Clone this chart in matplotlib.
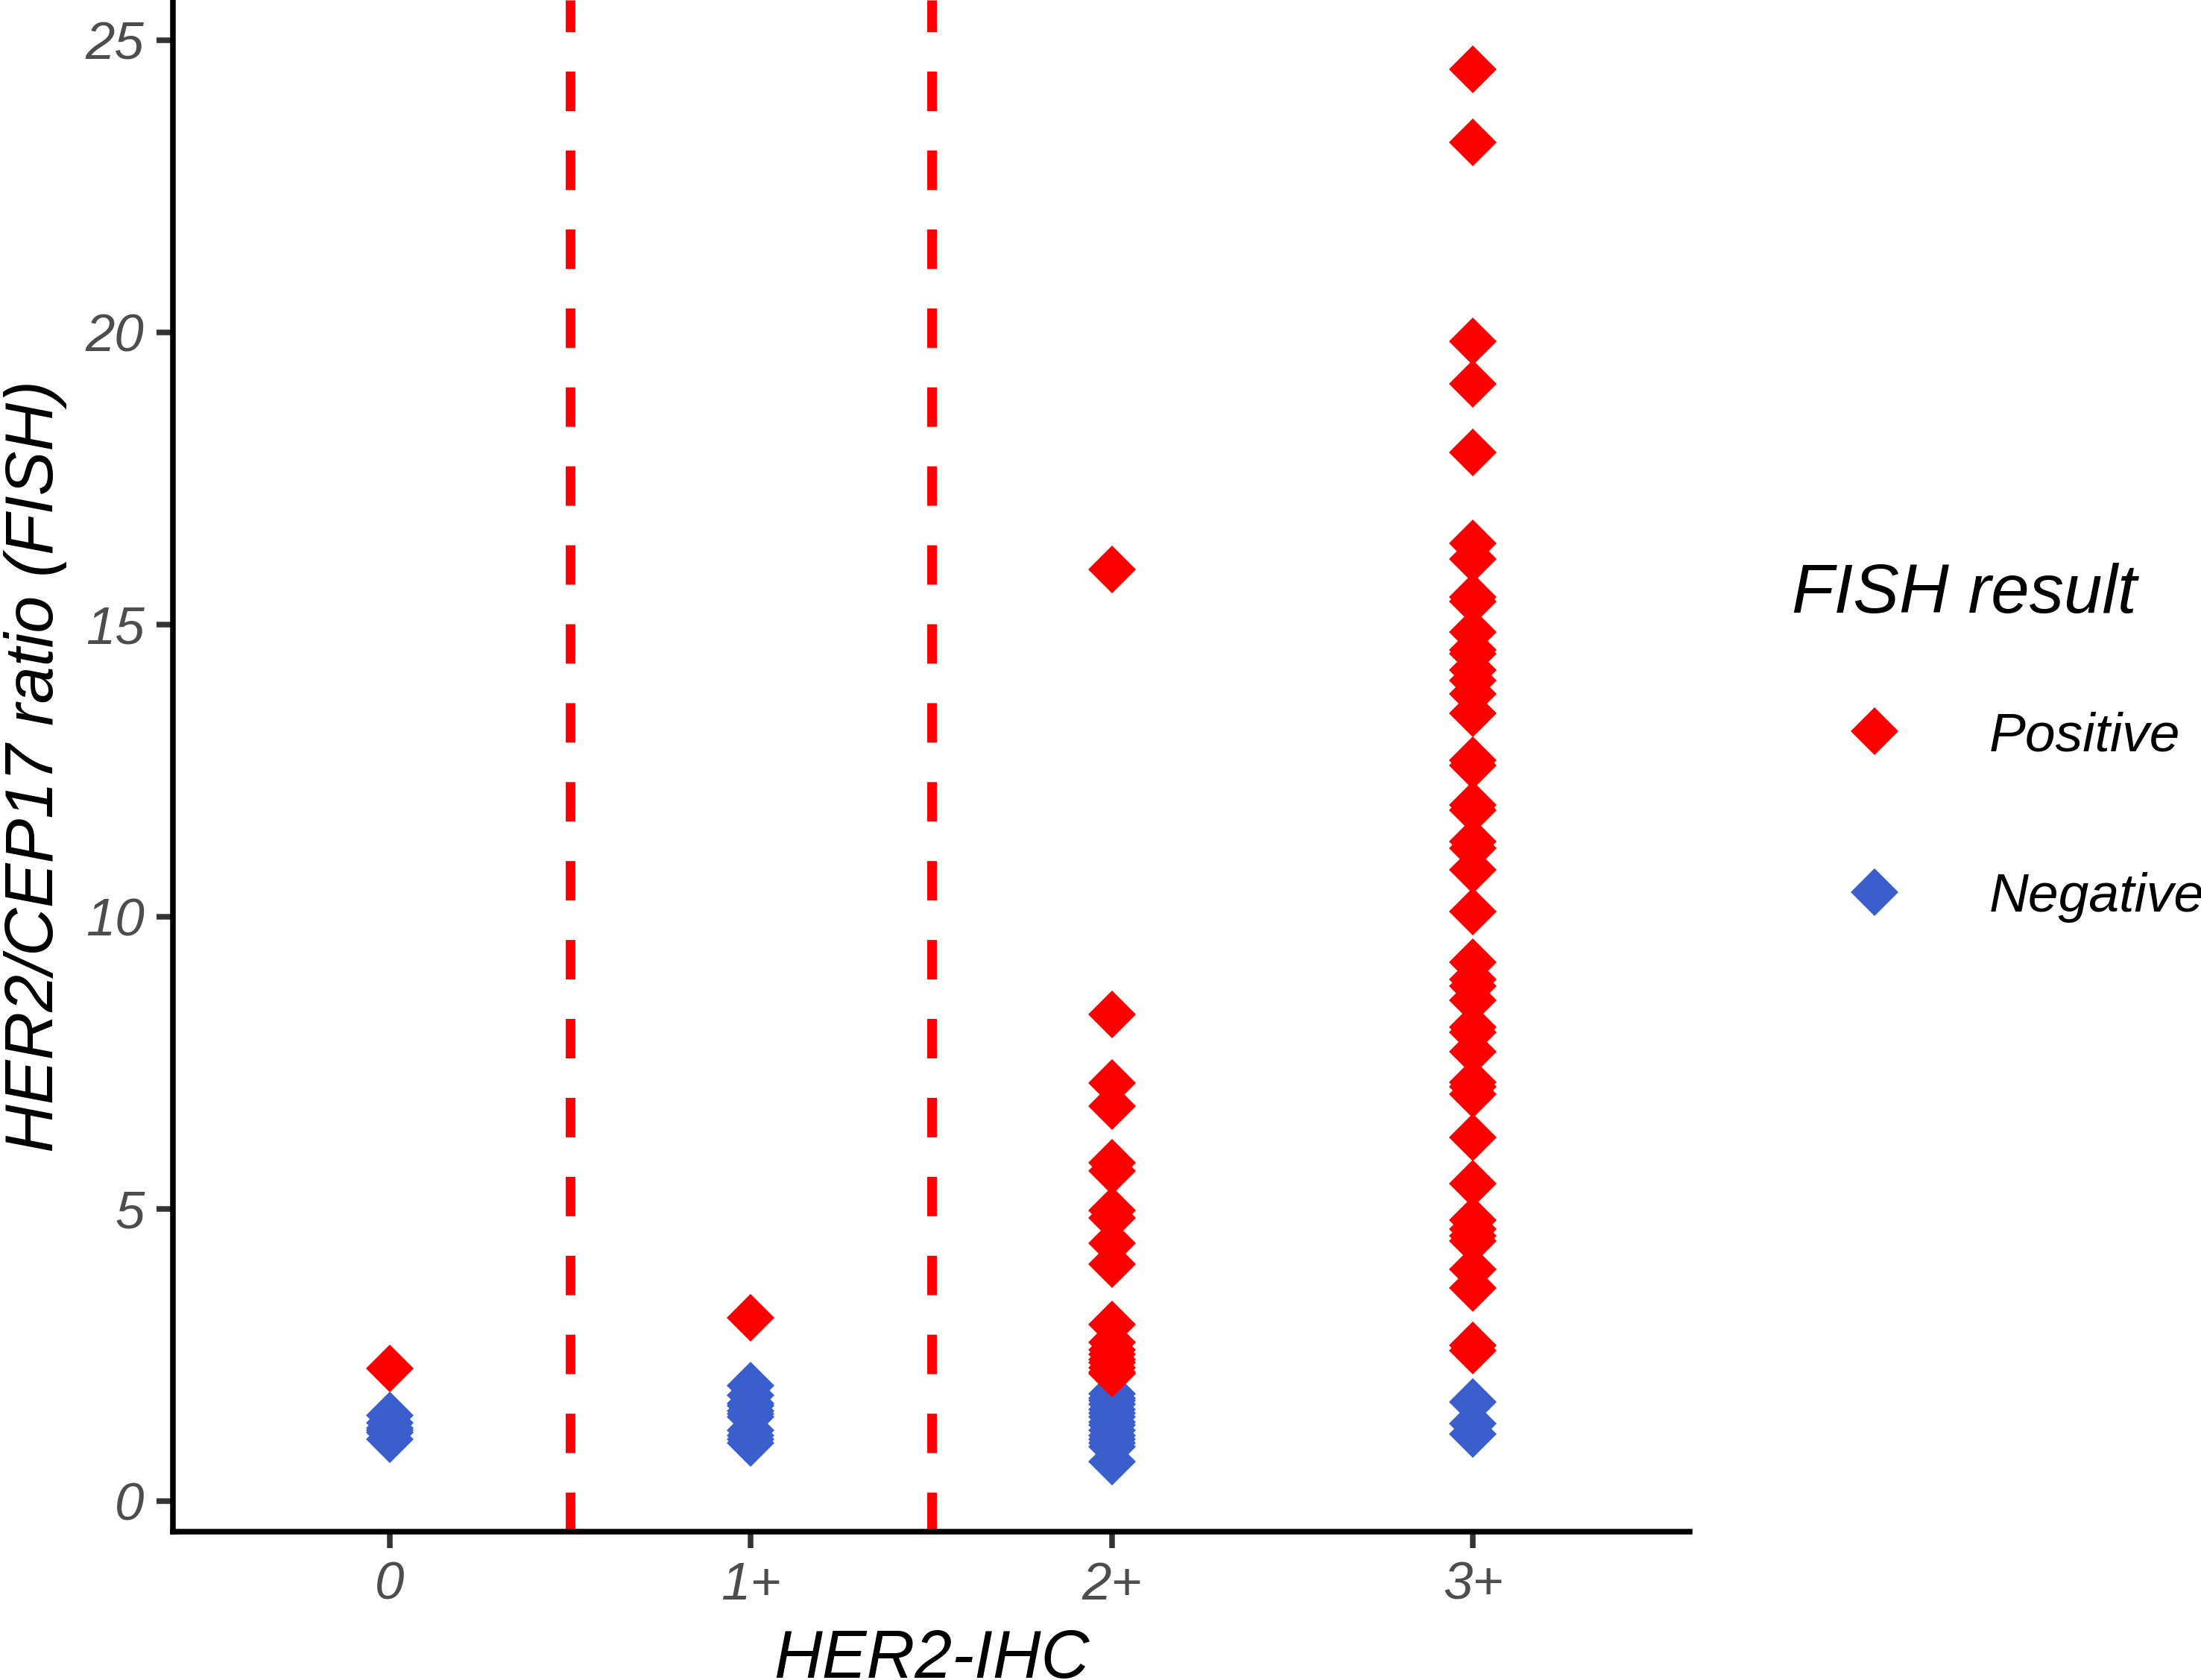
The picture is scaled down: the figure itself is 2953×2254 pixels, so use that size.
import matplotlib
matplotlib.use('Agg')
import matplotlib.pyplot as plt
from matplotlib.lines import Line2D

# IHC score categories on the x axis
ihc_labels = ['0', '1+', '2+', '3+']

# HER2/CEP17 ratios (FISH) read per IHC score, split by FISH result
positive_0 = [2.27]
negative_0 = [1.47, 1.34, 1.25, 1.21, 1.17, 1.06]

positive_1 = [3.14]
negative_1 = [1.98, 1.81, 1.68, 1.64, 1.55, 1.49, 1.44, 1.21, 1.13, 1.06, 1.00]

positive_2 = [15.94, 8.33, 7.16, 6.76, 5.79, 5.65, 4.98, 4.85, 4.41, 4.06,
              3.02, 2.72, 2.59, 2.51, 2.42, 2.37, 2.29, 2.21, 2.18]
negative_2 = [1.84, 1.76, 1.72, 1.66, 1.57, 1.51, 1.44, 1.36, 1.30, 1.21,
              1.13, 1.06, 1.00, 0.93, 0.68]

positive_3 = [24.50, 23.26, 19.85, 19.12, 17.95, 16.39, 16.13, 15.48, 15.40,
              14.87, 14.57, 14.51, 14.23, 14.04, 13.81, 13.49, 12.68, 12.59,
              11.92, 11.82, 11.29, 11.17, 10.80, 10.09, 9.22, 8.93, 8.82,
              8.57, 8.12, 8.03, 7.69, 7.17, 7.10, 6.97, 6.23, 5.43, 4.81,
              4.66, 4.54, 4.46, 3.97, 3.65, 2.67, 2.58]
negative_3 = [1.70, 1.33, 1.15]

# cut-offs drawn between the IHC groups
cutoffs = [0.5, 1.5]

positives = [positive_0, positive_1, positive_2, positive_3]
negatives = [negative_0, negative_1, negative_2, negative_3]

RED = '#FF0000'
BLUE = '#3A5FCD'
MS = 10.7


def graph_ratios():
    plt.rcParams['font.family'] = ['Liberation Sans', 'DejaVu Sans']
    fig = plt.figure(figsize=(2953 / 300, 2254 / 300), dpi=300)
    ax = fig.add_axes([232 / 2953, 1 - 2055 / 2254, 2035 / 2953, 2055 / 2254])

    for line in cutoffs:
        ax.axvline(line, color=RED, lw=3.1, linestyle=(0, (4.1, 4.1)), zorder=1)

    # negatives first, positives drawn on top like in the original
    for i in range(len(ihc_labels)):
        ax.plot([i] * len(negatives[i]), negatives[i], 'D', color=BLUE,
                ms=MS, mew=0, zorder=2)
        ax.plot([i] * len(positives[i]), positives[i], 'D', color=RED,
                ms=MS, mew=0, zorder=3)

    ax.set_xlim(-0.6, 3.6)
    ax.set_ylim(-0.52, 25.69)
    ax.set_xticks(range(len(ihc_labels)))
    ax.set_xticklabels(ihc_labels)
    ax.set_yticks([0, 5, 10, 15, 20, 25])

    for side in ['top', 'right']:
        ax.spines[side].set_visible(False)
    for side in ['left', 'bottom']:
        ax.spines[side].set_linewidth(1.8)
        ax.spines[side].set_color('black')

    ax.tick_params(length=5.2, width=1.8, color='#333333', labelcolor='#4D4D4D',
                   labelsize=17)
    ax.tick_params(axis='x', pad=4.3)
    ax.tick_params(axis='y', pad=4.0)
    for lab in ax.get_xticklabels() + ax.get_yticklabels():
        lab.set_style('italic')

    ax.set_xlabel('HER2-IHC', fontsize=21.5, style='italic')
    ax.set_ylabel('HER2/CEP17 ratio (FISH)', fontsize=21.5, style='italic')
    ax.xaxis.set_label_coords(0.5, -0.0633)
    ax.yaxis.set_label_coords(-0.0698, 0.5)

    # legend
    handles = [Line2D([], [], marker='D', linestyle='none', color=RED, ms=MS, mew=0),
               Line2D([], [], marker='D', linestyle='none', color=BLUE, ms=MS, mew=0)]
    ax.legend(handles, ['Positive', 'Negative'], loc='upper left',
              bbox_to_anchor=(2408 / 2953, 1 - 954 / 2254),
              bbox_transform=fig.transFigure, frameon=False, borderpad=0,
              borderaxespad=0, handlelength=2.92, handletextpad=0.64,
              labelspacing=2.02, prop={'size': 17.6, 'style': 'italic'})
    fig.text(2404 / 2953, 1 - 822 / 2254, 'FISH result', fontsize=22.2,
             style='italic', ha='left', va='baseline')

    fig.savefig('out.png', dpi=300)


def main():
    graph_ratios()


if __name__ == "__main__":
    main()
